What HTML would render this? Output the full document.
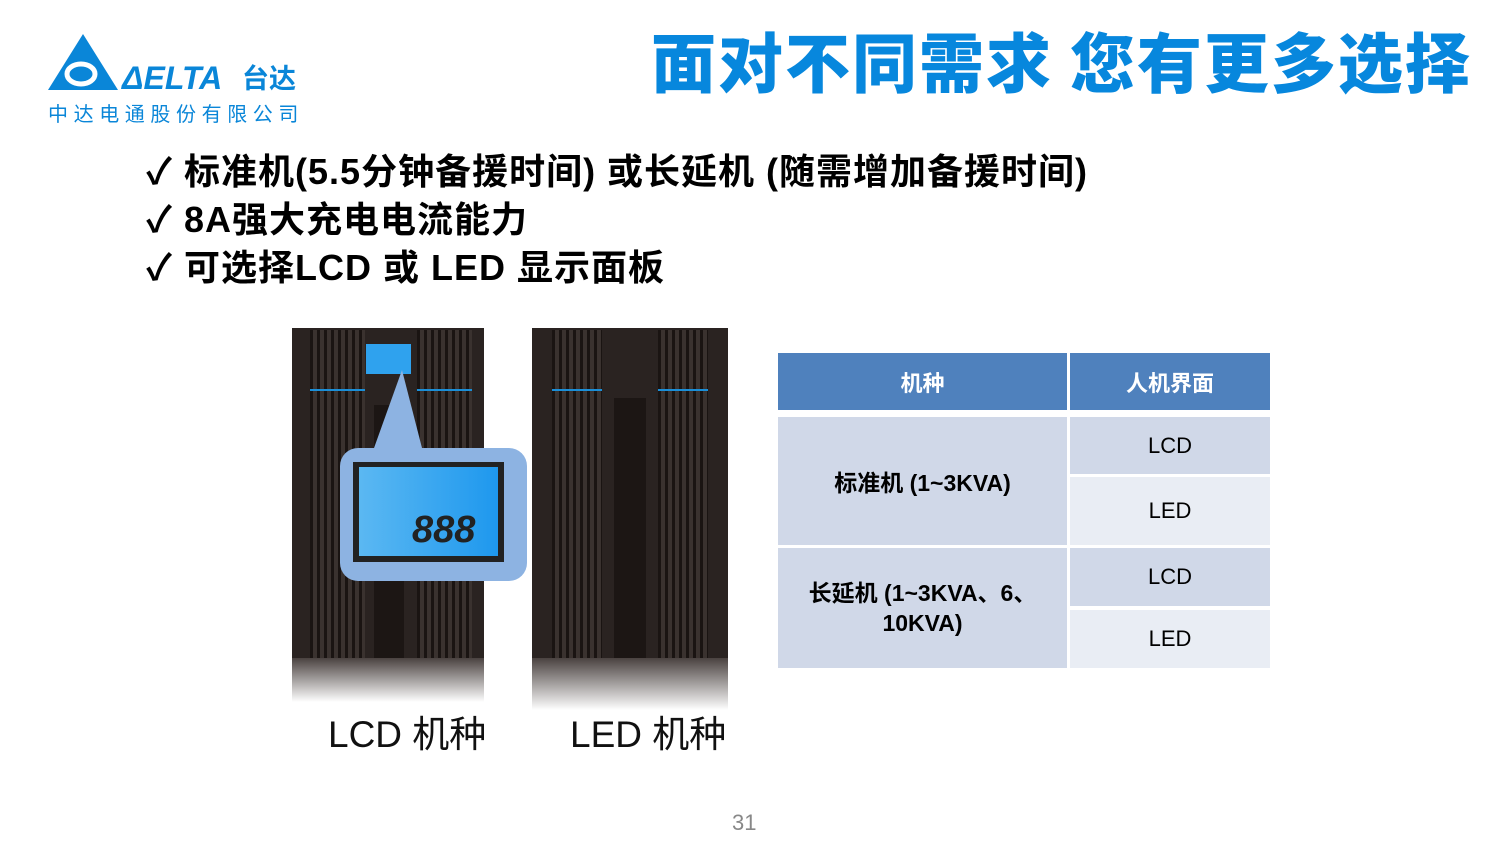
<!DOCTYPE html>
<html><head><meta charset="utf-8"><style>
body{margin:0;width:1500px;height:844px;background:#fff;position:relative;overflow:hidden;font-family:"Liberation Sans","Noto Sans CJK SC",sans-serif}
.a{position:absolute}
.t{font-weight:bold;white-space:nowrap}
.c{position:absolute;display:flex;align-items:center;justify-content:center;text-align:center;font-size:22px;color:#000}
.ups{position:absolute;background:#2a2321}
.str{position:absolute;background:repeating-linear-gradient(90deg,#1a1412 0 3px,#3a322f 3px 7px)}
</style></head><body>
<!-- logo -->
<svg class="a" style="left:48px;top:32px" width="260" height="62" viewBox="0 0 260 62">
<polygon points="35,2 70,58 0,58" fill="#0a86d8"/>
<ellipse cx="33" cy="42" rx="14" ry="10" fill="none" stroke="#fff" stroke-width="5"/>
<text x="74" y="57" font-family="Liberation Sans" font-weight="bold" font-size="32" fill="#0a86d8" font-style="italic">ΔELTA</text>
<text x="194" y="56" font-family="Noto Sans CJK SC" font-weight="bold" font-size="27" fill="#0a86d8">台达</text>
</svg>
<div class="a" style="left:48px;top:100px;font-size:20px;color:#0a86d8;letter-spacing:5.6px;font-family:'Noto Sans CJK SC',sans-serif;line-height:26px">中达电通股份有限公司</div>
<div class="a t" style="left:651px;top:16px;font-size:65px;color:#0787dd;letter-spacing:2px;line-height:86px;font-family:'Noto Sans CJK SC',sans-serif;font-weight:900">面对不同需求 您有更多选择</div>
<div class="a t" style="left:146px;top:148px;font-size:36px;line-height:48px;color:#000;letter-spacing:1px">
<div>✓ 标准机(5.5分钟备援时间) 或长延机 (随需增加备援时间)</div>
<div>✓ 8A强大充电电流能力</div>
<div>✓ 可选择LCD 或 LED 显示面板</div>
</div>
<!-- LCD UPS -->
<div class="ups" style="left:292px;top:328px;width:192px;height:330px"></div>
<div class="str" style="left:310px;top:330px;width:55px;height:328px"></div>
<div class="str" style="left:417px;top:330px;width:55px;height:328px"></div>
<div class="a" style="left:374px;top:405px;width:30px;height:253px;background:#1c1614"></div>
<div class="a" style="left:292px;top:658px;width:192px;height:44px;background:linear-gradient(#4a4240,#fff)"></div>
<div class="a" style="left:310px;top:389px;width:55px;height:2px;background:#1b8fd8"></div>
<div class="a" style="left:417px;top:389px;width:55px;height:2px;background:#1b8fd8"></div>
<div class="a" style="left:366px;top:344px;width:45px;height:30px;background:#2fa2ee"></div>
<svg class="a" style="left:370px;top:370px" width="60" height="80"><polygon points="32,0 52,78 4,78" fill="#8db3e2"/></svg>
<div class="a" style="left:340px;top:448px;width:187px;height:133px;background:#8db3e2;border-radius:18px"></div>
<div class="a" style="left:353px;top:462px;width:151px;height:100px;background:#222"></div>
<div class="a" style="left:359px;top:467px;width:139px;height:89px;background:linear-gradient(90deg,#5bb8f2,#1e98ee)"></div>
<div class="a t" style="left:412px;top:510px;font-size:38px;color:#222;font-style:italic;line-height:40px">888</div>
<!-- LED UPS -->
<div class="ups" style="left:532px;top:328px;width:196px;height:330px"></div>
<div class="str" style="left:552px;top:330px;width:50px;height:328px"></div>
<div class="str" style="left:658px;top:330px;width:50px;height:328px"></div>
<div class="a" style="left:614px;top:398px;width:32px;height:260px;background:#1c1614"></div>
<div class="a" style="left:532px;top:658px;width:196px;height:52px;background:linear-gradient(#4a4240,#fff)"></div>
<div class="a" style="left:552px;top:389px;width:50px;height:2px;background:#1b8fd8"></div>
<div class="a" style="left:658px;top:389px;width:50px;height:2px;background:#1b8fd8"></div>
<div class="a" style="left:328px;top:713px;font-size:37px;color:#111;line-height:44px">LCD 机种</div>
<div class="a" style="left:570px;top:713px;font-size:37px;color:#111;line-height:44px">LED 机种</div>
<!-- table -->
<div class="c t" style="left:778px;top:353px;width:289px;height:57px;background:#4f81bd;color:#fff">机种</div>
<div class="c t" style="left:1070px;top:353px;width:200px;height:57px;background:#4f81bd;color:#fff">人机界面</div>
<div class="c t" style="left:778px;top:417px;width:289px;height:128px;background:#d0d8e8;font-size:23px">标准机 (1~3KVA)</div>
<div class="c t" style="left:778px;top:548px;width:289px;height:120px;background:#d0d8e8;line-height:30px;font-size:23px">长延机 (1~3KVA、6、<br>10KVA)</div>
<div class="c" style="left:1070px;top:417px;width:200px;height:57px;background:#d0d8e8">LCD</div>
<div class="c" style="left:1070px;top:477px;width:200px;height:68px;background:#e9edf4">LED</div>
<div class="c" style="left:1070px;top:548px;width:200px;height:58px;background:#d0d8e8">LCD</div>
<div class="c" style="left:1070px;top:610px;width:200px;height:58px;background:#e9edf4">LED</div>
<div class="a" style="left:732px;top:810px;font-size:22px;color:#888">31</div>
</body></html>
